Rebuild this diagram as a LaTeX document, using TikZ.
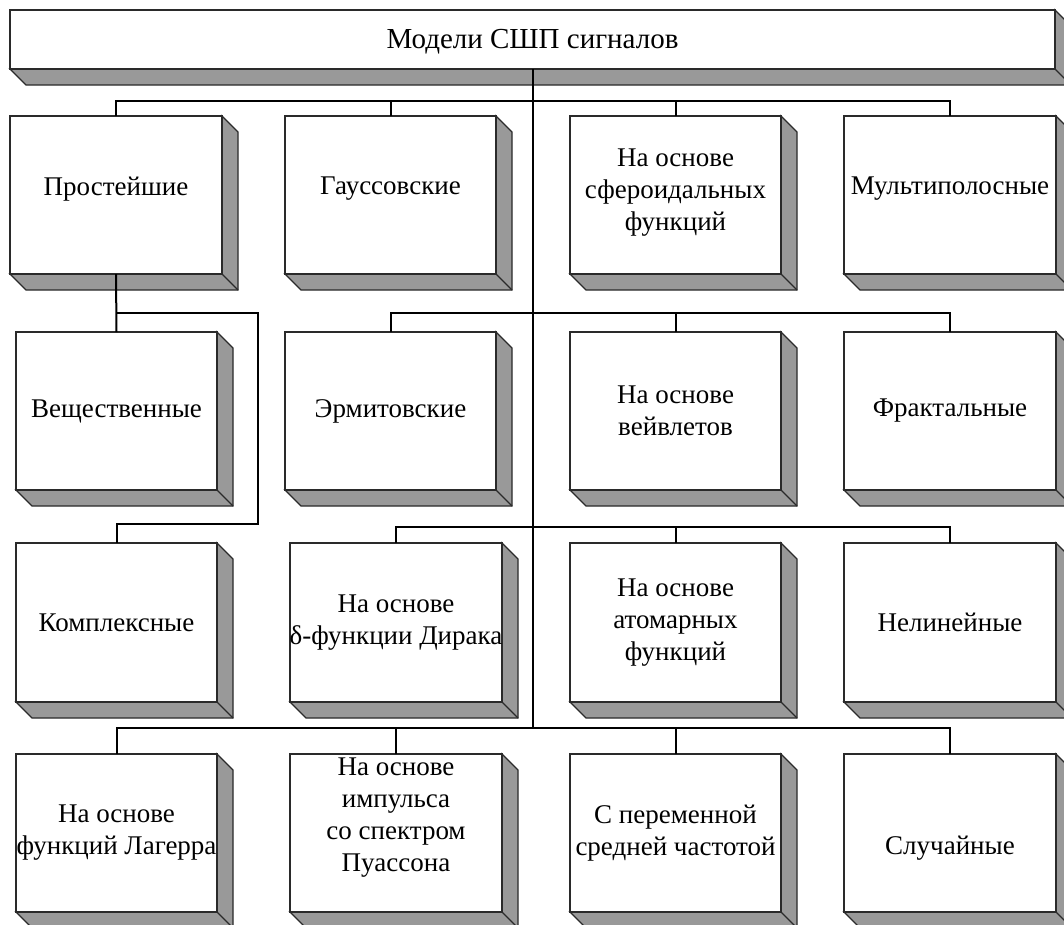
\documentclass[tikz,border=0pt]{standalone}
\usepackage{fontspec}
\setmainfont{Liberation Serif}
\definecolor{edgec}{HTML}{2A2A2A}
\definecolor{shadec}{HTML}{999999}
\tikzset{
 face/.style={draw=edgec, line width=1.3pt, fill=white, inner sep=0pt, outer sep=0pt},
 side/.style={fill=shadec, draw=edgec, line width=1.3pt, line join=miter},
 conn/.style={draw=black, line width=2pt},
 lbl/.style={font=\fontsize{27}{32}\selectfont, align=center, inner sep=0pt}
}
\newcommand\ebox[7][0]{%
 \pgfmathsetmacro\bw{#5-#3}\pgfmathsetmacro\bh{#6-#4}%
 \pgfmathsetmacro\cx{(#3+#5)/2}\pgfmathsetmacro\cy{(#4+#6)/2}%
 \filldraw[side] (#5,#4) -- (#5+16,#4+16) -- (#5+16,#6+16) -- (#3+16,#6+16) -- (#3,#6) -- (#5,#6) -- cycle;
 \draw[side,fill=none] (#5,#6) -- (#5+16,#6+16);
 \node[face, minimum width=\bw pt, minimum height=\bh pt] (#2) at (\cx,\cy) {};
 \node[lbl] (#2t) at ([yshift={-(#1)*1pt}]#2.center) {#7};
}
\begin{document}
\begin{tikzpicture}[x=1pt,y=-1pt]
\useasboundingbox (0,0) rectangle (1064,924);
\clip (0,0) rectangle (1064,924);
\fill[white] (0,0) rectangle (1064,924);
% boxes
\ebox[2]{top}{10}{10}{1055}{69}{\fontsize{29}{32}\selectfont Модели СШП сигналов}
\ebox[-6]{A}{10}{116}{222}{274}{Простейшие}
\ebox[-6]{B}{285}{116}{496}{274}{Гауссовские}
\ebox[-2]{C}{570}{116}{781}{274}{На основе\\сфероидальных\\функций}
\ebox[-6]{D}{844}{116}{1056}{274}{Мультиполосные}
\ebox{E}{16}{332}{217}{490}{Вещественные}
\ebox{F}{285}{332}{496}{490}{Эрмитовские}
\ebox{G}{570}{332}{781}{490}{На основе\\вейвлетов}
\ebox{H}{844}{332}{1056}{490}{Фрактальные}
\ebox{I}{16}{543}{217}{702}{Комплексные}
\ebox{J}{290}{543}{502}{702}{На основе\\δ-функции Дирака}
\ebox{K}{570}{543}{781}{702}{На основе\\атомарных\\функций}
\ebox{L}{844}{543}{1056}{702}{Нелинейные}
\ebox{M}{16}{754}{217}{912}{На основе\\функций Лагерра}
\ebox[-15]{N}{290}{754}{502}{912}{На основе\\импульса\\со спектром\\Пуассона}
\ebox{O}{570}{754}{781}{912}{С переменной\\средней частотой}
\ebox[15]{P}{844}{754}{1056}{912}{Случайные}
% bus levels
\coordinate (L1) at (0,101);
\coordinate (L2) at (0,313);
\coordinate (L3a) at (0,524);
\coordinate (L3) at (0,527);
\coordinate (L4) at (0,728);
\coordinate (jx) at (258,0);
% trunk
\draw[conn] (top.south) -- (top.south |- L4);
% level 1
\draw[conn] (A.north) -- (A.north |- L1) -- (D.north |- L1) -- (D.north);
\draw[conn] (B.north) -- (B.north |- L1);
\draw[conn] (C.north) -- (C.north |- L1);
% simple branch
\draw[conn] (A.south) -- (E.north);
\draw[conn] (A.south |- L2) -- (jx |- L2) -- (jx |- L3a) -- (I.north |- L3a) -- (I.north);
% level 2
\draw[conn] (F.north) -- (F.north |- L2) -- (H.north |- L2) -- (H.north);
\draw[conn] (G.north) -- (G.north |- L2);
% level 3
\draw[conn] (J.north) -- (J.north |- L3) -- (L.north |- L3) -- (L.north);
\draw[conn] (K.north) -- (K.north |- L3);
% level 4
\draw[conn] (M.north) -- (M.north |- L4) -- (P.north |- L4) -- (P.north);
\draw[conn] (N.north) -- (N.north |- L4);
\draw[conn] (O.north) -- (O.north |- L4);
\end{tikzpicture}
\end{document}
